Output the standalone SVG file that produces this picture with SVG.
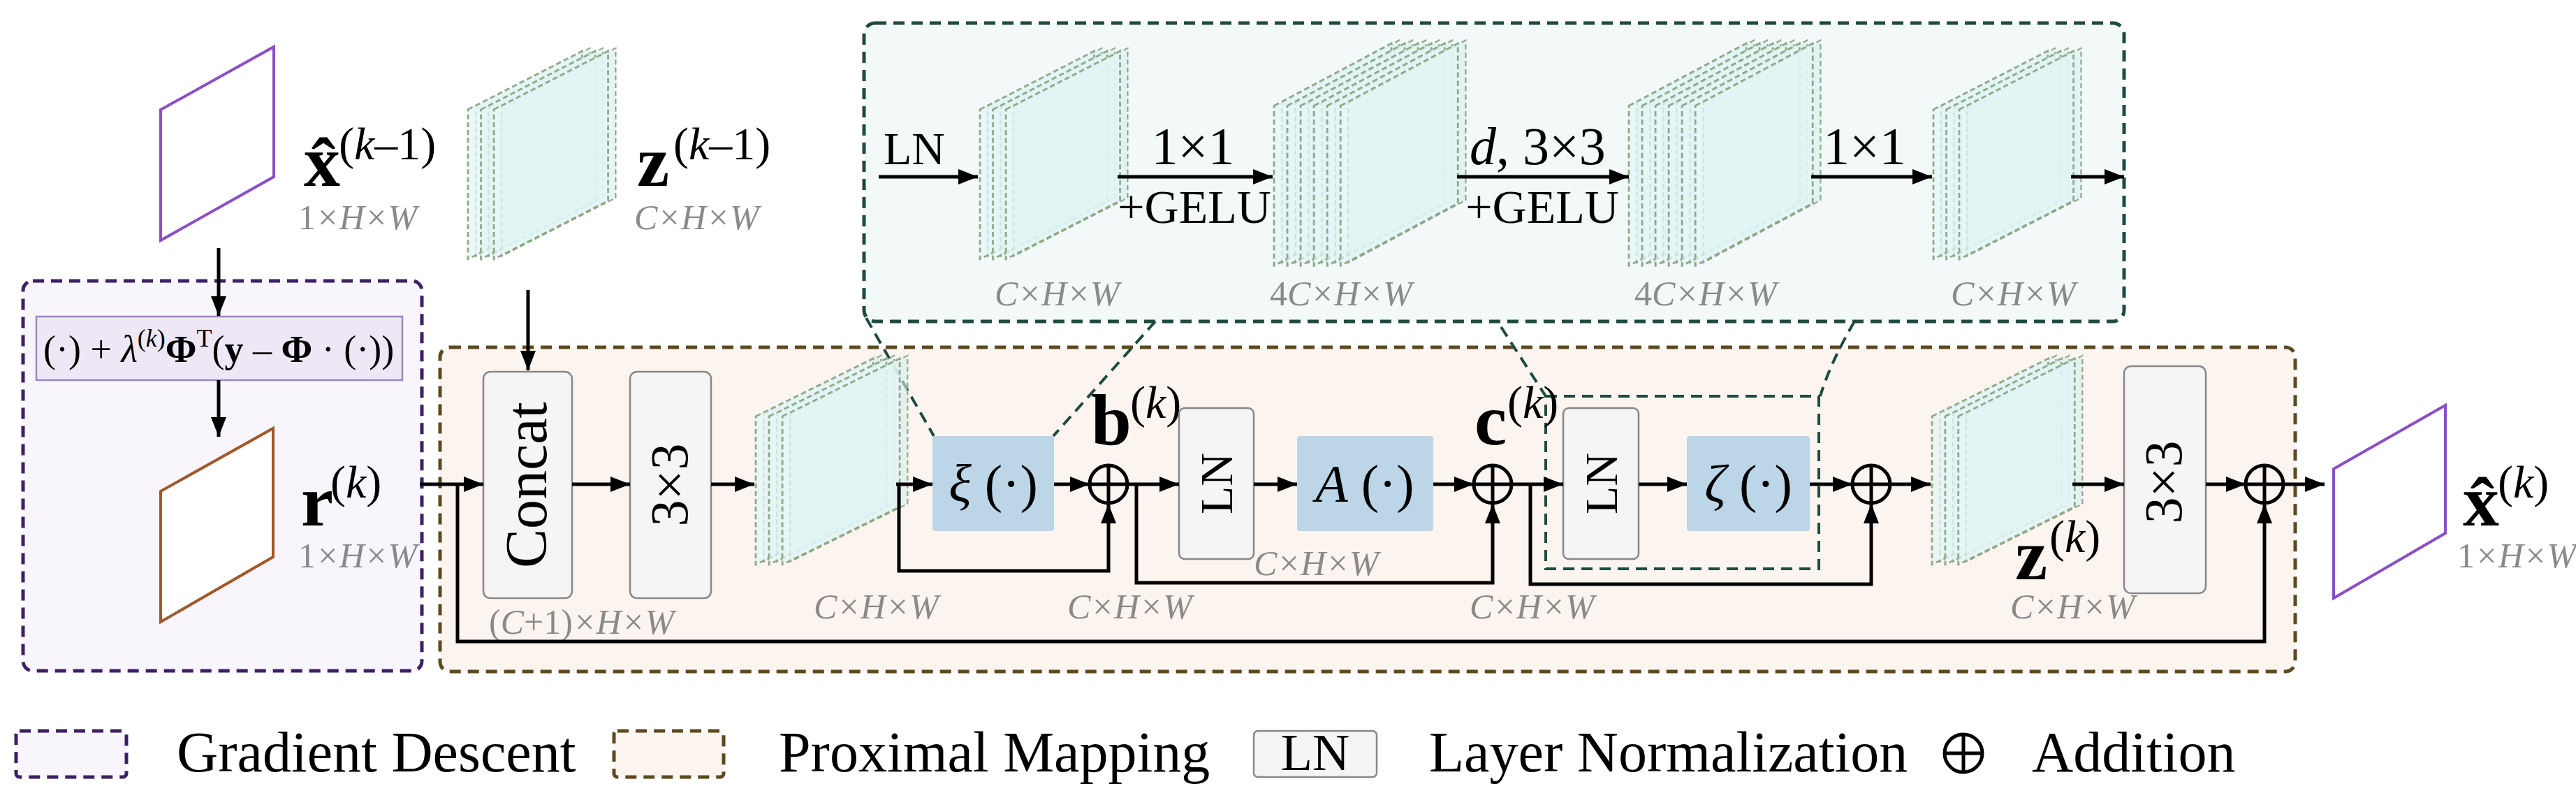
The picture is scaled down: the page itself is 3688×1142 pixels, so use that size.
<svg xmlns="http://www.w3.org/2000/svg" xmlns:xlink="http://www.w3.org/1999/xlink" width="3688" height="1142" viewBox="0 0 3688 1142" font-family="'Liberation Serif', 'Times New Roman', 'DejaVu Serif', serif">
<style>
text{font-family:'Liberation Serif','Times New Roman','DejaVu Serif',serif;fill:#000}
.dim{fill:#8a8a8a;font-style:italic;font-size:50px}
.lbl{font-weight:bold;font-size:104px}
.sup{font-size:66px}
.s{fill:#e4f6f6;fill-opacity:0.75;stroke:#8fa888;stroke-width:2.5;stroke-dasharray:7 4}
.s2{fill:#d6eeee;fill-opacity:0.6;stroke:#8fa888;stroke-width:2;stroke-dasharray:7 4}
.ln{fill:none;stroke:#000;stroke-width:5}
.ar{fill:none;stroke:#000;stroke-width:5;marker-end:url(#ah)}
.gray{fill:#f5f5f5;stroke:#888;stroke-width:2.5}
.blue{fill:#bcd6e8}
.add{fill:none;stroke:#000;stroke-width:5}
.zd{fill:none;stroke:#1f4a40;stroke-width:4;stroke-dasharray:16 10}
</style>
<defs>
<marker id="ah" viewBox="0 0 28 22" refX="28" refY="11" markerWidth="28" markerHeight="22" markerUnits="userSpaceOnUse" orient="auto"><path d="M0,0 L28,11 L0,22 Z" fill="#000"/></marker>
<g id="slab"><polygon points="10,78 160,-4 160,206 10,288" class="s2"/><polygon points="0,82 150,0 150,210 0,292" class="s"/></g>
<g id="st3"><use href="#slab"/><use href="#slab" x="17"/><use href="#slab" x="34"/></g>
<g id="st6"><use href="#slab"/><use href="#slab" x="17"/><use href="#slab" x="34"/><use href="#slab" x="51"/><use href="#slab" x="68"/><use href="#slab" x="85"/></g>
<g id="addc"><circle r="27" class="add"/><path d="M-27,0H27M0,-27V27" class="add"/></g>
</defs>

<g id="gradient-descent"><rect x="33" y="402" width="571" height="558" rx="14" fill="#f8f5fd" stroke="#3d1f66" stroke-width="5" stroke-dasharray="16 10"/></g>
<g id="proximal-mapping"><rect x="630" y="497" width="2656" height="464" rx="14" fill="#fcf4ef" stroke="#5c4a1e" stroke-width="5" stroke-dasharray="16 10"/></g>
<g id="zoom-box"><rect x="1237" y="33" width="1804" height="427" rx="16" fill="#f3f9f9" stroke="#1f4a40" stroke-width="5" stroke-dasharray="16 10"/></g>
<g id="zoom-lines">
<path d="M1240,455 L1337,624" class="zd"/>
<path d="M1654,460 L1508,624" class="zd"/>
<path d="M2149,468 L2213,567" class="zd"/>
<path d="M2655,460 Q2620,520 2606,567" class="zd"/>
<rect x="2213" y="567" width="391" height="247" class="zd"/>
</g>

<g id="xhat-prev">
<polygon points="230,157 392,67 392,253 230,344" fill="#fff" stroke="#8a4fc8" stroke-width="4"/>
<text x="435" y="266" class="lbl">x̂</text>
<text x="485" y="228" class="sup">(<tspan font-style="italic">k</tspan>–1)</text>
<text x="427" y="328" class="dim"><tspan font-style="normal">1</tspan>×H×W</text>
</g>
<g id="z-prev">
<use href="#st3" transform="translate(670,73) scale(1.09,1.02)"/>
<text x="912" y="266" class="lbl">z</text>
<text x="964" y="228" class="sup">(<tspan font-style="italic">k</tspan>–1)</text>
<text x="908" y="328" class="dim">C×H×W</text>
</g>
<g id="gd-formula">
<rect x="52" y="453" width="524" height="91" fill="#eee8f6" stroke="#9a88c0" stroke-width="2.5"/>
<text x="62" y="518" font-size="54">(·) + <tspan font-style="italic">λ</tspan><tspan font-size="36" dy="-22">(<tspan font-style="italic">k</tspan>)</tspan><tspan dy="22" font-weight="bold">Φ</tspan><tspan font-size="36" dy="-22">T</tspan><tspan dy="22">(</tspan><tspan font-weight="bold">y</tspan> – <tspan font-weight="bold">Φ</tspan> · (·))</text>
</g>
<g id="r-k">
<polygon points="230,703 391,613 391,797 230,890" fill="#fff" stroke="#a0592a" stroke-width="4"/>
<text x="431" y="752" class="lbl">r</text>
<text x="473" y="712" class="sup">(<tspan font-style="italic">k</tspan>)</text>
<text x="427" y="812" class="dim"><tspan font-style="normal">1</tspan>×H×W</text>
</g>

<g id="concat"><rect x="692" y="532" width="127" height="324" rx="10" class="gray"/>
<text transform="translate(782,694) rotate(-90)" text-anchor="middle" font-size="84">Concat</text>
<text x="700" y="907" class="dim"><tspan font-style="normal">(</tspan>C<tspan font-style="normal">+1)</tspan>×H×W</text></g>
<g id="conv3-a"><rect x="902" y="532" width="116" height="324" rx="10" class="gray"/>
<text transform="translate(984,694) rotate(-90)" text-anchor="middle" font-size="76">3×3</text></g>
<g id="feat-a"><use href="#st3" transform="translate(1082,513) scale(1.12,1.01)"/>
<text x="1165" y="885" class="dim">C×H×W</text></g>
<g id="xi"><rect x="1335" y="624" width="174" height="136" rx="4" class="blue"/>
<text x="1422" y="718" text-anchor="middle" font-size="76"><tspan font-style="italic">ξ</tspan> (·)</text></g>
<g id="add1"><use href="#addc" x="1587" y="693"/>
<text x="1562" y="636" class="lbl">b</text><text x="1618" y="598" class="sup">(<tspan font-style="italic">k</tspan>)</text>
<text x="1528" y="885" class="dim">C×H×W</text></g>
<g id="ln1"><rect x="1688" y="584" width="107" height="216" rx="8" class="gray"/>
<text transform="translate(1764,692) rotate(-90)" text-anchor="middle" font-size="66">LN</text>
<text x="1795" y="823" class="dim">C×H×W</text></g>
<g id="attn"><rect x="1857" y="624" width="195" height="136" rx="4" class="blue"/>
<text x="1954" y="718" text-anchor="middle" font-size="76"><tspan font-style="italic">A</tspan> (·)</text></g>
<g id="add2"><use href="#addc" x="2137" y="693"/>
<text x="2111" y="636" class="lbl">c</text><text x="2158" y="598" class="sup">(<tspan font-style="italic">k</tspan>)</text>
<text x="2104" y="885" class="dim">C×H×W</text></g>
<g id="ln2"><rect x="2238" y="584" width="108" height="216" rx="8" class="gray"/>
<text transform="translate(2315,692) rotate(-90)" text-anchor="middle" font-size="66">LN</text></g>
<g id="zeta"><rect x="2415" y="624" width="176" height="136" rx="4" class="blue"/>
<text x="2503" y="718" text-anchor="middle" font-size="76"><tspan font-style="italic">ζ</tspan> (·)</text></g>
<g id="add3"><use href="#addc" x="2679" y="693"/></g>
<g id="z-k"><use href="#st3" transform="translate(2766,513) scale(1.11,1.01)"/>
<text x="2885" y="829" class="lbl">z</text><text x="2934" y="790" class="sup">(<tspan font-style="italic">k</tspan>)</text>
<text x="2878" y="885" class="dim">C×H×W</text></g>
<g id="conv3-b"><rect x="3041" y="524" width="117" height="325" rx="10" class="gray"/>
<text transform="translate(3123,690) rotate(-90)" text-anchor="middle" font-size="76">3×3</text></g>
<g id="add4"><use href="#addc" x="3242" y="693"/></g>
<g id="xhat-k">
<polygon points="3341,671 3501,580 3501,763 3341,856" fill="#fff" stroke="#8a4fc8" stroke-width="4"/>
<text x="3526" y="752" class="lbl">x̂</text><text x="3576" y="712" class="sup">(<tspan font-style="italic">k</tspan>)</text>
<text x="3518" y="812" class="dim"><tspan font-style="normal">1</tspan>×H×W</text>
</g>

<g id="ffn-ln"><text x="1265" y="235" font-size="66">LN</text></g>
<g id="ffn-f1"><use href="#st3" transform="translate(1403,73) scale(1.09,1.02)"/><text x="1424" y="437" class="dim">C×H×W</text></g>
<g id="ffn-f2"><use href="#st6" transform="translate(1824,62) scale(1.12,1.09)"/><text x="1818" y="437" class="dim"><tspan font-style="normal">4</tspan>C×H×W</text></g>
<g id="ffn-f3"><use href="#st6" transform="translate(2332,62) scale(1.12,1.09)"/><text x="2340" y="437" class="dim"><tspan font-style="normal">4</tspan>C×H×W</text></g>
<g id="ffn-f4"><use href="#st3" transform="translate(2768,73) scale(1.09,1.02)"/><text x="2793" y="437" class="dim">C×H×W</text></g>
<text x="1708" y="235" font-size="76" text-anchor="middle">1×1</text>
<text x="1710" y="319" font-size="68" text-anchor="middle">+GELU</text>
<text x="2104" y="235" font-size="76"><tspan font-style="italic">d</tspan>, 3×3</text>
<text x="2208" y="319" font-size="68" text-anchor="middle">+GELU</text>
<text x="2610" y="235" font-size="76">1×1</text>

<g id="connectors">
<path d="M313,355 V452" class="ar"/>
<path d="M313,544 V625" class="ar"/>
<path d="M756,415 V530" class="ar"/>
<path d="M601,693 H692" class="ar"/>
<path d="M655,693 V918 H3242 V721" class="ar"/>
<path d="M819,693 H902" class="ar"/>
<path d="M1018,693 H1080" class="ar"/>
<path d="M1283,693 H1335" class="ar"/>
<path d="M1287,693 V817 H1587 V721" class="ar"/>
<path d="M1509,693 H1560" class="ar"/>
<path d="M1614,693 H1688" class="ar"/>
<path d="M1627,693 V834 H2137 V721" class="ar"/>
<path d="M1795,693 H1857" class="ar"/>
<path d="M2052,693 H2110" class="ar"/>
<path d="M2164,693 H2238" class="ar"/>
<path d="M2191,693 V836 H2679 V721" class="ar"/>
<path d="M2346,693 H2415" class="ar"/>
<path d="M2591,693 H2652" class="ar"/>
<path d="M2706,693 H2764" class="ar"/>
<path d="M2967,693 H3041" class="ar"/>
<path d="M3158,693 H3215" class="ar"/>
<path d="M3269,693 H3328" class="ar"/>
<path d="M1258,253 H1400" class="ar"/>
<path d="M1600,253 H1822" class="ar"/>
<path d="M2086,253 H2332" class="ar"/>
<path d="M2593,253 H2766" class="ar"/>
<path d="M2965,253 H3041" class="ar"/>
</g>

<g id="legend">
<rect x="23" y="1046" width="158" height="66" rx="5" fill="#f8f5fd" stroke="#3d1f66" stroke-width="5" stroke-dasharray="16 10"/>
<text x="253" y="1104" font-size="82">Gradient Descent</text>
<rect x="879" y="1046" width="157" height="66" rx="5" fill="#fcf4ef" stroke="#5c4a1e" stroke-width="5" stroke-dasharray="16 10"/>
<text x="1115" y="1104" font-size="82">Proximal Mapping</text>
<rect x="1795" y="1046" width="176" height="66" rx="6" class="gray"/>
<text x="1883" y="1102" font-size="74" text-anchor="middle">LN</text>
<text x="2046" y="1104" font-size="82">Layer Normalization</text>
<use href="#addc" x="2811" y="1078"/>
<text x="2909" y="1104" font-size="82">Addition</text>
</g>
</svg>
